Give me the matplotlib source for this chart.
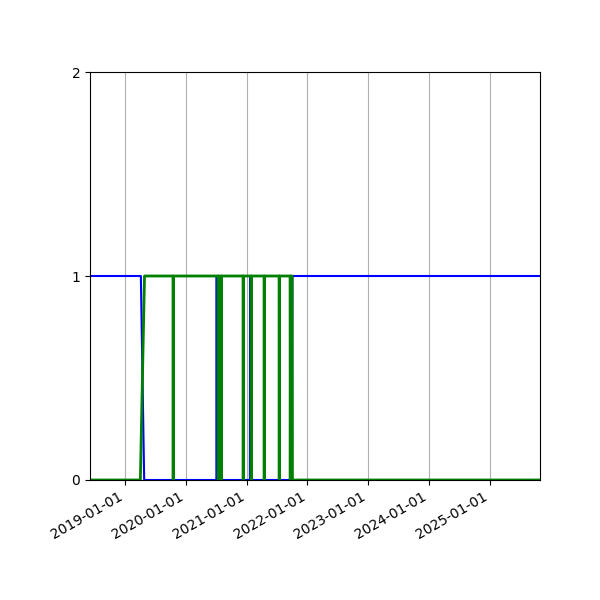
import matplotlib
matplotlib.use("Agg")
import matplotlib.pyplot as plt
import matplotlib.dates as mdates
import pandas as pd

# green series: on from spring 2019, short drop-outs, off from Oct 2021
green_dates = [
    "2018-06-07", "2019-04-05", "2019-04-30",
    "2019-10-18", "2019-10-19", "2019-10-20",
    "2020-07-14", "2020-07-15", "2020-07-16",
    "2020-08-01", "2020-08-02", "2020-08-03",
    "2020-12-11", "2020-12-12", "2020-12-13",
    "2021-01-28", "2021-01-29", "2021-01-30",
    "2021-04-16", "2021-04-17", "2021-04-18",
    "2021-07-15", "2021-07-16", "2021-07-17",
    "2021-09-19", "2021-09-20", "2021-09-22",
    "2021-10-01", "2021-10-03", "2025-10-27",
]
green_vals = [
    0, 0, 1,
    1, 0, 1,
    1, 0, 1,
    1, 0, 1,
    1, 0, 1,
    1, 0, 1,
    1, 0, 1,
    1, 0, 1,
    1, 0, 1,
    1, 0, 0,
]

# blue series: the complement, with its spikes where green drops out
blue_dates = [
    "2018-06-07", "2019-04-08", "2019-04-28",
    "2019-10-21", "2019-10-22", "2019-10-23",
    "2020-07-05", "2020-07-06", "2020-07-07",
    "2020-07-23", "2020-07-24", "2020-07-25",
    "2020-12-11", "2020-12-12", "2020-12-13",
    "2021-01-21", "2021-01-22", "2021-01-23",
    "2021-04-19", "2021-04-20", "2021-04-21",
    "2021-07-15", "2021-07-16", "2021-07-17",
    "2021-09-19", "2021-09-20", "2021-09-22",
    "2021-10-01", "2021-10-03", "2025-10-27",
]
blue_vals = [
    1, 1, 0,
    0, 1, 0,
    0, 1, 0,
    0, 1, 0,
    0, 1, 0,
    0, 1, 0,
    0, 1, 0,
    0, 1, 0,
    0, 1, 0,
    0, 1, 1,
]

y_ticks = [0, 1, 2]

fig, ax = plt.subplots(figsize=(6, 6), dpi=100)
fig.subplots_adjust(left=0.15, right=0.9, bottom=0.2, top=0.88)

ax.plot(pd.to_datetime(blue_dates), blue_vals, color="blue", lw=1.5)
ax.plot(pd.to_datetime(green_dates), green_vals, color="green", lw=2)

ax.set_xlim(pd.Timestamp(green_dates[0]), pd.Timestamp(green_dates[-1]))
ax.set_ylim(0, 2)
ax.set_yticks(y_ticks)
ax.xaxis.set_major_locator(mdates.YearLocator())
ax.xaxis.set_major_formatter(mdates.DateFormatter("%Y-%m-%d"))
ax.grid(True, axis="x")
for lbl in ax.get_xticklabels():
    lbl.set_rotation(30)
    lbl.set_ha("right")

fig.savefig("out.png")
